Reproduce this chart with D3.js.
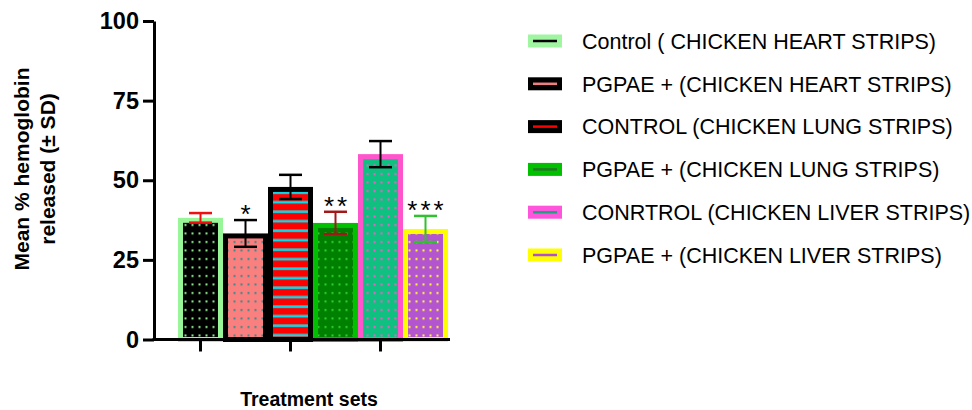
<!DOCTYPE html>
<html>
<head>
<meta charset="utf-8">
<script src="https://cdn.jsdelivr.net/npm/d3@7"></script>
<style>
  html, body { margin: 0; padding: 0; background: #fff; }
  svg { display: block; }
  text { font-family: "Liberation Sans", Arial, sans-serif; }
</style>
</head>
<body>
<svg id="chart" width="972" height="410"></svg>
<script>
// ---- data ----
const categories = [
  "Control ( CHICKEN HEART STRIPS)",
  "PGPAE + (CHICKEN HEART STRIPS)",
  "CONTROL (CHICKEN LUNG STRIPS)",
  "PGPAE + (CHICKEN LUNG STRIPS)",
  "CONRTROL (CHICKEN LIVER STRIPS)",
  "PGPAE + (CHICKEN LIVER STRIPS)"
];
const means = [38.2, 33.3, 47.9, 36.6, 58.2, 34.7];
const sds = [1.5, 4.2, 3.8, 3.5, 4.1, 4.1];
const stars = ["", "*", "", "**", "", "***"];
const yTicks = [0, 25, 50, 75, 100];
const xTickCategories = [categories[0], categories[2], categories[4]];
const yLabelLines = ["Mean % hemoglobin", "released (\u00B1 SD)"];
const xLabel = "Treatment sets";

// ---- styles ----
const borderColors = ["#98f598", "#000000", "#000000", "#00c000", "#ff55cc", "#ffff00"];
const fillColors   = ["#000000", "#fa8080", "#ff0000", "#008000", "#10c080", "#b455d0"];
const markColors   = ["#90ee90", "#3a8a8a", "#00e0f0", "#30d030", "#ff55cc", "#ffff30"];
const patternKinds = ["dots", "dots", "stripes", "dots", "dots", "dots"];
const errColors    = ["#ee1010", "#000000", "#000000", "#a01818", "#000000", "#30c030"];
const legendFill   = ["#a0f5a0", "#000000", "#000000", "#00c000", "#ff55dd", "#ffff00"];
const legendLine   = ["#000000", "#f08080", "#ff0000", "#207820", "#20a080", "#b050d0"];

const svg = d3.select("#chart");
const FONT = '"Liberation Sans", Arial, sans-serif';

const y = d3.scaleLinear().domain([0, 100]).range([339.5, 21]);
const x = d3.scaleBand().domain(categories).range([178, 448]).padding(0);
const axisX = 154;
const axisRight = 450;

// ---- patterns ----
const defs = svg.append("defs");
categories.forEach((c, i) => {
  if (patternKinds[i] === "dots") {
    const p = defs.append("pattern").attr("id", "pat" + i)
      .attr("patternUnits", "userSpaceOnUse")
      .attr("width", 7).attr("height", 8.5)
      .attr("x", 0).attr("y", 0);
    p.append("rect").attr("width", 7).attr("height", 8.5).attr("fill", fillColors[i]);
    p.append("rect").attr("x", 2.5).attr("y", 3).attr("width", 2).attr("height", 2).attr("fill", markColors[i]);
  } else {
    const p = defs.append("pattern").attr("id", "pat" + i)
      .attr("patternUnits", "userSpaceOnUse")
      .attr("width", 10).attr("height", 9.5)
      .attr("x", 0).attr("y", 1);
    p.append("rect").attr("width", 10).attr("height", 9.5).attr("fill", fillColors[i]);
    p.append("rect").attr("y", 0).attr("width", 10).attr("height", 1).attr("fill", "#808080");
    p.append("rect").attr("y", 1).attr("width", 10).attr("height", 2).attr("fill", markColors[i]);
  }
});

// ---- bars ----
const sw = 5;
const bw = x.bandwidth();
svg.append("g").selectAll("rect").data(categories).join("rect")
  .attr("x", d => x(d) + sw / 2)
  .attr("y", (d, i) => y(means[i]) + sw / 2)
  .attr("width", bw - sw)
  .attr("height", (d, i) => y(0) - y(means[i]) - sw / 2)
  .attr("fill", (d, i) => "url(#pat" + i + ")")
  .attr("stroke", (d, i) => borderColors[i])
  .attr("stroke-width", sw);

// ---- error bars ----
const eg = svg.append("g");
categories.forEach((c, i) => {
  const cx = x(c) + bw / 2;
  const yt = y(means[i] + sds[i]), yb = y(means[i] - sds[i]);
  const col = errColors[i];
  eg.append("line").attr("x1", cx).attr("x2", cx).attr("y1", yt).attr("y2", yb)
    .attr("stroke", col).attr("stroke-width", 2);
  [yt, yb].forEach(yy => {
    eg.append("line").attr("x1", cx - 11.5).attr("x2", cx + 11.5).attr("y1", yy).attr("y2", yy)
      .attr("stroke", col).attr("stroke-width", 2.5);
  });
  if (stars[i]) {
    eg.append("text").attr("x", cx + 1.5).attr("y", yt + 3)
      .attr("text-anchor", "middle")
      .attr("font-size", 26).attr("letter-spacing", 3)
      .attr("fill", "#000").text(stars[i]);
  }
});

// ---- y axis ----
const yAxis = svg.append("g").attr("transform", `translate(${axisX},0)`)
  .call(d3.axisLeft(y).tickValues(yTicks).tickSize(11).tickSizeOuter(0).tickPadding(4).tickFormat(d3.format("d")));
yAxis.select(".domain").attr("stroke-width", 3).attr("stroke", "#000");
yAxis.selectAll(".tick line").attr("stroke-width", 3).attr("stroke", "#000");
yAxis.selectAll(".tick text").attr("font-family", FONT).attr("font-size", 23.5)
  .attr("font-weight", "bold").attr("fill", "#000");

// ---- x axis ----
const xAxis = svg.append("g").attr("transform", `translate(0,${y(0)})`)
  .call(d3.axisBottom(x).tickValues(xTickCategories).tickSize(12).tickSizeOuter(0).tickFormat(""));
xAxis.select(".domain").remove();
xAxis.selectAll(".tick line").attr("stroke-width", 3).attr("stroke", "#000");
xAxis.append("line").attr("x1", axisX - 1.5).attr("x2", axisRight).attr("y1", 0).attr("y2", 0)
  .attr("stroke", "#000").attr("stroke-width", 3);

// ---- axis titles ----
const yl = svg.append("g");
[29, 55].forEach((bx, k) => {
  yl.append("text").attr("transform", `translate(${bx},169) rotate(-90)`)
    .attr("text-anchor", "middle").attr("font-size", 21).attr("font-weight", "bold")
    .attr("fill", "#000").text(yLabelLines[k]);
});
svg.append("text").attr("x", 309).attr("y", 406).attr("text-anchor", "middle")
  .attr("font-size", 19.5).attr("font-weight", "bold").attr("fill", "#000").text(xLabel);

// ---- legend ----
const lg = svg.append("g");
categories.forEach((c, i) => {
  const cy = 41 + i * 42.8;
  lg.append("rect").attr("x", 528).attr("y", cy - 6.5).attr("width", 34).attr("height", 13)
    .attr("fill", legendFill[i]);
  lg.append("line").attr("x1", 533).attr("x2", 557).attr("y1", cy).attr("y2", cy)
    .attr("stroke", legendLine[i]).attr("stroke-width", 2.5);
  lg.append("text").attr("x", 582).attr("y", cy + 7.7)
    .attr("font-size", 21.5).attr("fill", "#000").text(c);
});
</script>
</body>
</html>
